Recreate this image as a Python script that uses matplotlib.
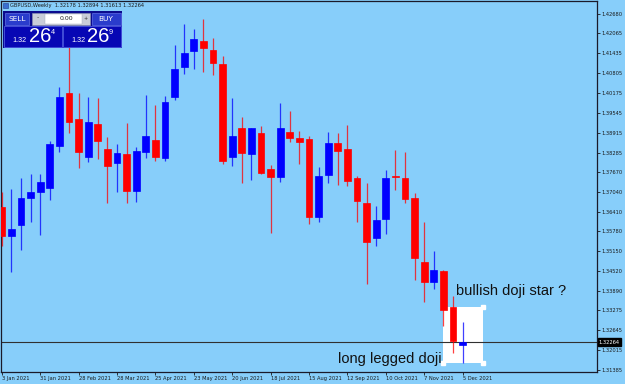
import matplotlib
matplotlib.use('Agg')
import matplotlib.pyplot as plt
from matplotlib.patches import Rectangle
import matplotlib.transforms as mtransforms

# ---- data (GBPUSD weekly, 3 Jan 2021 .. 5 Dec 2021) ----
opens = [1.36547, 1.35646, 1.35985, 1.36851, 1.37032, 1.37150, 1.38501, 1.40173, 1.39358, 1.38133,
         1.39190, 1.38397, 1.37943, 1.38247, 1.37074, 1.38292, 1.38673, 1.38111, 1.40056, 1.41008,
         1.41496, 1.41823, 1.41538, 1.41093, 1.38133, 1.39053, 1.38228, 1.38895, 1.37753, 1.37518,
         1.38936, 1.38746, 1.38714, 1.36249, 1.37581, 1.38596, 1.38406, 1.37476, 1.36693, 1.35563,
         1.36166, 1.37540, 1.37467, 1.36832, 1.34802, 1.34167, 1.34526, 1.33393, 1.32178]
highs = [1.37042, 1.37128, 1.37467, 1.37603, 1.37594, 1.38660, 1.40373, 1.41623, 1.40173, 1.40056,
         1.40005, 1.38787, 1.38546, 1.39212, 1.38451, 1.40100, 1.39783, 1.40078, 1.41687, 1.42363,
         1.42204, 1.42521, 1.41928, 1.41347, 1.40024, 1.39412, 1.39065, 1.39126, 1.37889, 1.39866,
         1.39602, 1.38968, 1.38809, 1.37816, 1.38936, 1.38895, 1.39149, 1.37540, 1.37308, 1.36579,
         1.37730, 1.38365, 1.38301, 1.37000, 1.36080, 1.35160, 1.34548, 1.33733, 1.32894]
lows = [1.35319, 1.34504, 1.35192, 1.36090, 1.35668, 1.36778, 1.38292, 1.38895, 1.37784, 1.37994,
        1.38079, 1.36693, 1.37042, 1.36693, 1.36705, 1.38121, 1.38006, 1.38006, 1.39942, 1.40776,
        1.40925, 1.40830, 1.40735, 1.37911, 1.37857, 1.37308, 1.37413, 1.37613, 1.35722, 1.37359,
        1.38628, 1.37921, 1.36017, 1.36071, 1.37308, 1.37264, 1.37223, 1.36090, 1.34104, 1.35328,
        1.35690, 1.37096, 1.36674, 1.34240, 1.33533, 1.33955, 1.32781, 1.31934, 1.31613]
closes = [1.35646, 1.35858, 1.36832, 1.37032, 1.37350, 1.38555, 1.40056, 1.39244, 1.38311, 1.39244,
          1.38660, 1.37857, 1.38260, 1.37074, 1.38343, 1.38809, 1.38152, 1.39888, 1.40935, 1.41452,
          1.41887, 1.41592, 1.41135, 1.38025, 1.38818, 1.38279, 1.39053, 1.37645, 1.37499, 1.39053,
          1.38736, 1.38609, 1.36249, 1.37530, 1.38577, 1.38324, 1.37372, 1.36756, 1.35446, 1.36134,
          1.37486, 1.37520, 1.36810, 1.34948, 1.34167, 1.34548, 1.33288, 1.32300, 1.32264]

x_tick_labels = ["3 Jan 2021", "31 Jan 2021", "28 Feb 2021", "28 Mar 2021", "25 Apr 2021",
                 "23 May 2021", "20 Jun 2021", "18 Jul 2021", "15 Aug 2021", "12 Sep 2021",
                 "10 Oct 2021", "7 Nov 2021", "5 Dec 2021"]
y_ticks = [1.42680, 1.42065, 1.41435, 1.40805, 1.40175, 1.39545, 1.38915, 1.38285, 1.37670,
           1.37040, 1.36410, 1.35780, 1.35150, 1.34520, 1.33890, 1.33275, 1.32645, 1.32015, 1.31385]
current_price = 1.32264
header = "GBPUSD,Weekly  1.32178 1.32894 1.31613 1.32264"

BG = '#87CEFA'
BULL = '#0000FF'
BEAR = '#FF0000'

W, H = 625, 384
fig = plt.figure(figsize=(W / 100, H / 100), dpi=100, facecolor=BG)
ax = fig.add_axes([1 / W, 1 - 372 / H, 596 / W, 371 / H])
ax.set_facecolor(BG)

n = len(opens)
idx = list(range(n))
for i in idx:
    o, h, l, c = opens[i], highs[i], lows[i], closes[i]
    col = BULL if c >= o else BEAR
    ax.vlines(i, l, h, color=col, lw=0.9, alpha=0.75, zorder=3)
    bottom = min(o, c)
    height = max(abs(c - o), 0.00035)
    ax.bar(i, height, bottom=bottom, width=0.70, color=col, edgecolor=col,
           linewidth=0.5, zorder=4)

ax.set_xlim(-0.083, 62.0)
ax.set_ylim(1.31321, 1.43092)

# current price line
ax.axhline(current_price, color='#303030', lw=0.8, zorder=2)

# white rectangle object
ax.add_patch(Rectangle((46.0, 1.31607), 4.1, 1.33398 - 1.31607, facecolor='white',
                       edgecolor='none', zorder=1))
for cx in (46.0, 50.1):
    for cy in (1.31607, 1.33398):
        ax.plot([cx], [cy], marker='s', ms=2.2, color='white', zorder=1)

ax.text(47.3, 1.3375, "bullish doji star ?", fontsize=10.5, family='Liberation Sans',
        color='#111111', ha='left', va='baseline', zorder=6)
ax.text(35.0, 1.3161, "long legged doji", fontsize=10.5, family='Liberation Sans',
        color='#111111', ha='left', va='baseline', zorder=6)

# axes styling
for s in ax.spines.values():
    s.set_color('#1a1a2a')
    s.set_linewidth(0.9)

ax.set_xticks(list(range(0, n, 4)))
ax.set_xticklabels(x_tick_labels, ha='left', fontsize=3.7, family='DejaVu Sans', color='#1a1a1a')
ax.yaxis.tick_right()
ax.set_yticks(y_ticks)
ax.set_yticklabels([f"{v:.5f}" for v in y_ticks], fontsize=3.7, family='DejaVu Sans', color='#1a1a1a')
ax.tick_params(axis='x', length=2.2, width=0.6, pad=0.8, colors='#1a1a1a')
ax.tick_params(axis='y', length=2.2, width=0.6, pad=1.2, colors='#1a1a1a')

# current price label on the right
trans = mtransforms.blended_transform_factory(ax.transAxes, ax.transData)
ax.text(1.003, current_price, f"{current_price:.5f}", transform=trans, fontsize=3.7,
        family='DejaVu Sans', color='white', ha='left', va='center', zorder=10,
        bbox=dict(boxstyle='square,pad=0.25', facecolor='black', edgecolor='black'),
        clip_on=False)

# ---- overlay for header and trading panel (pixel coordinates) ----
ov = fig.add_axes([0, 0, 1, 1], facecolor='none')
ov.set_xlim(0, W)
ov.set_ylim(H, 0)
ov.axis('off')

ov.add_patch(Rectangle((2.5, 3), 5, 5, facecolor='#3a6fd0', edgecolor='#1a3a90', lw=0.4))
ov.text(10, 6, header, fontsize=3.7, family='DejaVu Sans', color='#1a1a1a', va='center', ha='left')

# panel
ov.add_patch(Rectangle((3, 11), 119, 37, facecolor='#0b0b8e', edgecolor='none'))
ov.add_patch(Rectangle((5, 12.7), 24, 12.3, facecolor='#2a3ccc', edgecolor='#6070e8', lw=0.5))
ov.text(17, 18.8, "SELL", fontsize=5.3, family='DejaVu Sans', color='white', ha='center', va='center')
ov.add_patch(Rectangle((92, 12.7), 29, 12.3, facecolor='#2a3ccc', edgecolor='#6070e8', lw=0.5))
ov.text(106, 18.8, "BUY", fontsize=5.3, family='DejaVu Sans', color='white', ha='center', va='center')
ov.add_patch(Rectangle((32, 13), 58, 12, facecolor='#c9cdd8', edgecolor='#9098b0', lw=0.4))
ov.add_patch(Rectangle((45, 14), 37, 10, facecolor='white', edgecolor='#a0a8b8', lw=0.3))
ov.text(38, 18, "-", fontsize=4.5, family='DejaVu Sans', color='#303030', ha='center', va='center')
ov.text(86, 18, "+", fontsize=3.5, family='DejaVu Sans', color='#303030', ha='center', va='center')
ov.text(73, 18.5, "0.00", fontsize=4.5, family='DejaVu Sans', color='#202020', ha='right', va='center')

for bx in (3.5, 63):
    ov.add_patch(Rectangle((bx, 26), 58, 21, facecolor='#0707b4', edgecolor='#4a58e0', lw=0.6))

for x1, x2, x3, sup in ((12.5, 29, 50.5, "4"), (71, 87, 109, "9")):
    ov.text(x1, 42, "1.32", fontsize=5.2, family='Liberation Sans', color='white',
            ha='left', va='baseline')
    ov.text(x2, 42.5, "26", fontsize=14.5, family='Liberation Sans', color='white',
            ha='left', va='baseline')
    ov.text(x3, 33.5, sup, fontsize=5.2, family='Liberation Sans', color='white',
            ha='left', va='baseline')

fig.savefig('out.png', dpi=100, facecolor=BG)
